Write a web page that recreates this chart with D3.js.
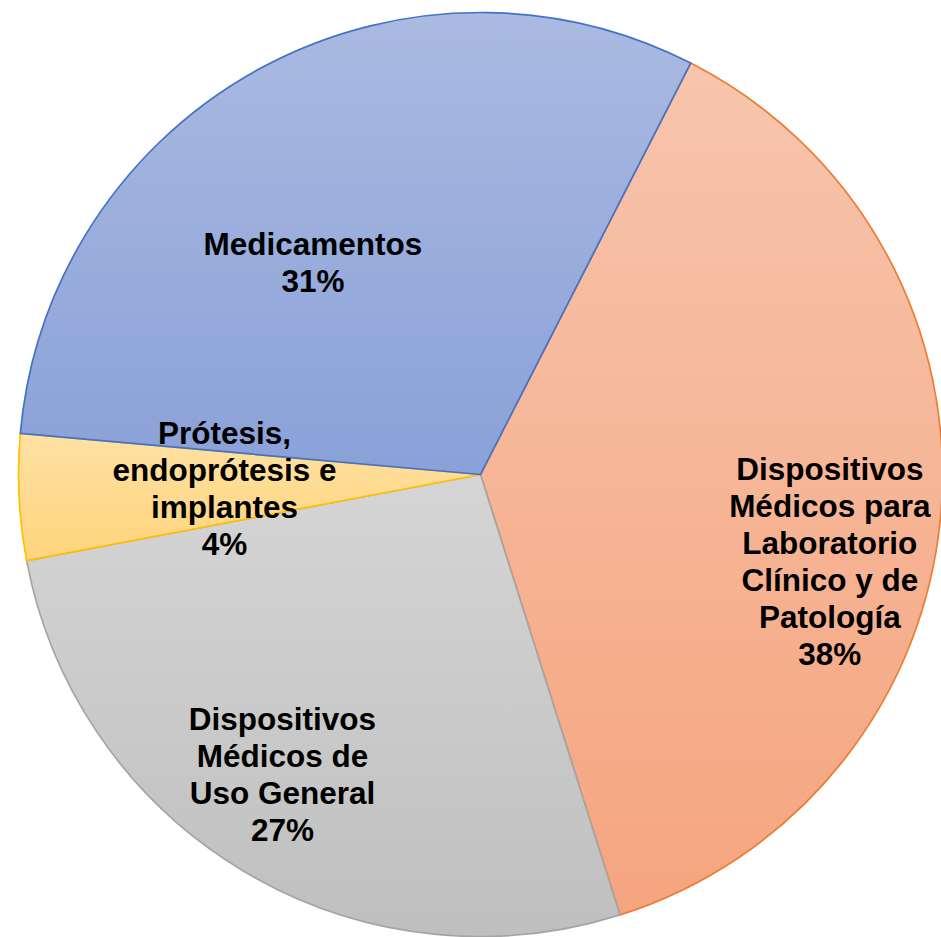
<!DOCTYPE html>
<meta charset="utf-8">
<head>
<style>
    body {margin: 0; background: #fff; font-family: "Liberation Sans", Arial, sans-serif;}
</style>
<script src="https://d3js.org/d3.v7.min.js"></script>
</head>
<body>
    <div id="pie"></div>
<script>

// data, clockwise from the orange slice
var categories = [
    "Dispositivos Médicos para Laboratorio Clínico y de Patología",
    "Dispositivos Médicos de Uso General",
    "Prótesis, endoprótesis e implantes",
    "Medicamentos"
];
var values = [37.6, 26.9, 4.4, 31.1];
var labelLines = [
    ["Dispositivos", "Médicos para", "Laboratorio", "Clínico y de", "Patología"],
    ["Dispositivos", "Médicos de", "Uso General"],
    ["Prótesis,", "endoprótesis e", "implantes"],
    ["Medicamentos"]
];

// look
var lineColors = ["#ed7d31", "#a5a5a5", "#ffc000", "#4472c4"];
var topColors = ["#f7c5ad", "#d5d5d5", "#ffe1a3", "#aabae1"];
var bottomColors = ["#f5a57f", "#bfbfbf", "#ffd47c", "#8aa1d8"];
// label placement: fraction of radius, angle nudge (degrees)
var labelPlace = [[0.779, 9.2], [0.778, 2.6], [0.555, -0.3], [0.585, -9.4]];

var width = 941, height = 937;
var cx = 480.5, cy = 474.5, radius = 462;
var fontSize = 31.5, lineHeight = 37;
var startDeg = 27.06;

var svg = d3.select("#pie")
    .append("svg")
    .attr("width", width)
    .attr("height", height);

var defs = svg.append("defs");
categories.forEach(function(c, i) {
    var g = defs.append("linearGradient")
        .attr("id", "grad" + i)
        .attr("x1", 0).attr("y1", 0)
        .attr("x2", 0).attr("y2", 1);
    g.append("stop").attr("offset", "0%").attr("stop-color", topColors[i]);
    g.append("stop").attr("offset", "100%").attr("stop-color", bottomColors[i]);
});

var start = startDeg * Math.PI / 180;
var pie = d3.pie()
    .sort(null)
    .startAngle(start)
    .endAngle(start + 2 * Math.PI);

var arcs = pie(values);
var total = d3.sum(values);

var arc = d3.arc()
    .innerRadius(0)
    .outerRadius(radius);

var g = svg.append("g")
    .attr("transform", "translate(" + cx + "," + cy + ")");

g.selectAll("path")
    .data(arcs)
    .enter().append("path")
    .attr("d", arc)
    .style("fill", function(d, i) { return "url(#grad" + i + ")"; })
    .style("stroke", function(d, i) { return lineColors[i]; })
    .style("stroke-width", "1.7px")
    .style("stroke-linejoin", "round");

var labels = g.selectAll("text")
    .data(arcs)
    .enter().append("text")
    .style("font-size", fontSize + "px")
    .style("font-weight", "bold")
    .style("fill", "#000")
    .style("text-anchor", "middle");

labels.each(function(d, i) {
    var mid = (d.startAngle + d.endAngle) / 2 + labelPlace[i][1] * Math.PI / 180;
    var r = radius * labelPlace[i][0];
    var x = r * Math.sin(mid);
    var y = -r * Math.cos(mid);
    var lines = labelLines[i].concat([Math.round(d.value / total * 100) + "%"]);
    var first = y - (lines.length - 1) / 2 * lineHeight + 0.35 * fontSize;
    var t = d3.select(this);
    lines.forEach(function(line, k) {
        t.append("tspan")
            .attr("x", x)
            .attr("y", first + k * lineHeight)
            .text(line);
    });
});

</script>
</body>
